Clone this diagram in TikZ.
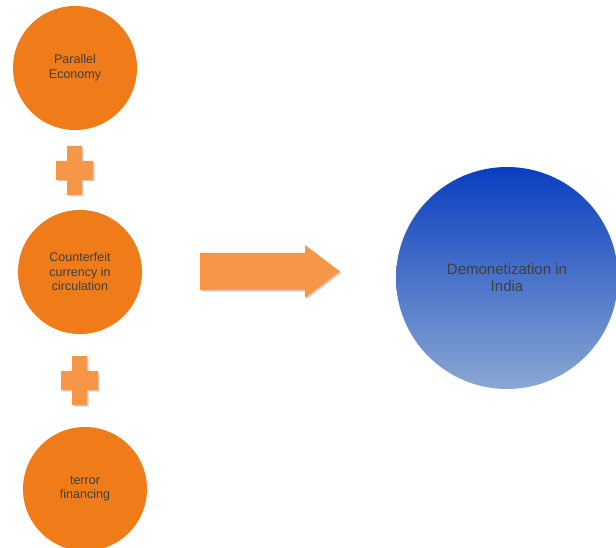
\documentclass[tikz,border=0pt]{standalone}
\usepackage{fontspec}
\setmainfont{Liberation Sans}
\definecolor{circorange}{HTML}{F07B19}
\definecolor{lightorange}{HTML}{F79646}
\definecolor{txtgray}{HTML}{3F3F3F}
\definecolor{bluetop}{HTML}{0A3EC0}
\definecolor{bluebot}{HTML}{8AA8D2}
\tikzset{
  causebox/.style={circle, fill=circorange, minimum size=124pt, inner sep=0pt,
    text=txtgray, align=center, font=\fontsize{12.5}{14.5}\selectfont},
  resultbox/.style={circle, top color=bluetop, bottom color=bluebot, minimum size=222pt,
    inner sep=0pt, text=txtgray, align=center, font=\fontsize{15}{17}\selectfont},
  plusshape/.style={fill=lightorange},
  softshadow/.style={fill=black, opacity=0.18}
}
\begin{document}
\begin{tikzpicture}[x=1pt,y=-1pt]
\useasboundingbox (0,0) rectangle (616,548);
\begin{scope}
\clip (0,0) rectangle (616,548);
\node[causebox] (pe) at (75,68) {Parallel\\Economy};
\node[causebox] (cc) at (80,272) {Counterfeit\\currency in\\circulation};
\node[causebox] (tf) at (85,489) {terror\\financing};
\node[resultbox] (dm) at (507,278) {Demonetization in\\India};
\end{scope}
% plus signs
\foreach \cx/\cy/\nm in {74.5/170.5/plusa, 79.5/380.5/plusb}{
  \coordinate (\nm) at (\cx,\cy);
  \fill[softshadow] ([shift={(-7.5+1.5,-24.5+1.5)}]\nm) -- ++(15,0) -- ++(0,15) -- ++(11,0) -- ++(0,19) -- ++(-11,0) -- ++(0,15) -- ++(-15,0) -- ++(0,-15) -- ++(-11,0) -- ++(0,-19) -- ++(11,0) -- cycle;
  \fill[plusshape] ([shift={(-7.5,-24.5)}]\nm) -- ++(15,0) -- ++(0,15) -- ++(11,0) -- ++(0,19) -- ++(-11,0) -- ++(0,15) -- ++(-15,0) -- ++(0,-15) -- ++(-11,0) -- ++(0,-19) -- ++(11,0) -- cycle;
}
% big arrow
\coordinate (arrowstart) at (200,271.5);
\fill[softshadow] ([shift={(1.5,1.5)}]arrowstart) ++(0,-18.5) -- ++(105,0) -- ++(0,-8) -- ++(35,26.5) -- ++(-35,26.5) -- ++(0,-8) -- ++(-105,0) -- cycle;
\fill[plusshape] (arrowstart) ++(0,-18.5) -- ++(105,0) -- ++(0,-8) -- ++(35,26.5) -- ++(-35,26.5) -- ++(0,-8) -- ++(-105,0) -- cycle;
\end{tikzpicture}
\end{document}
